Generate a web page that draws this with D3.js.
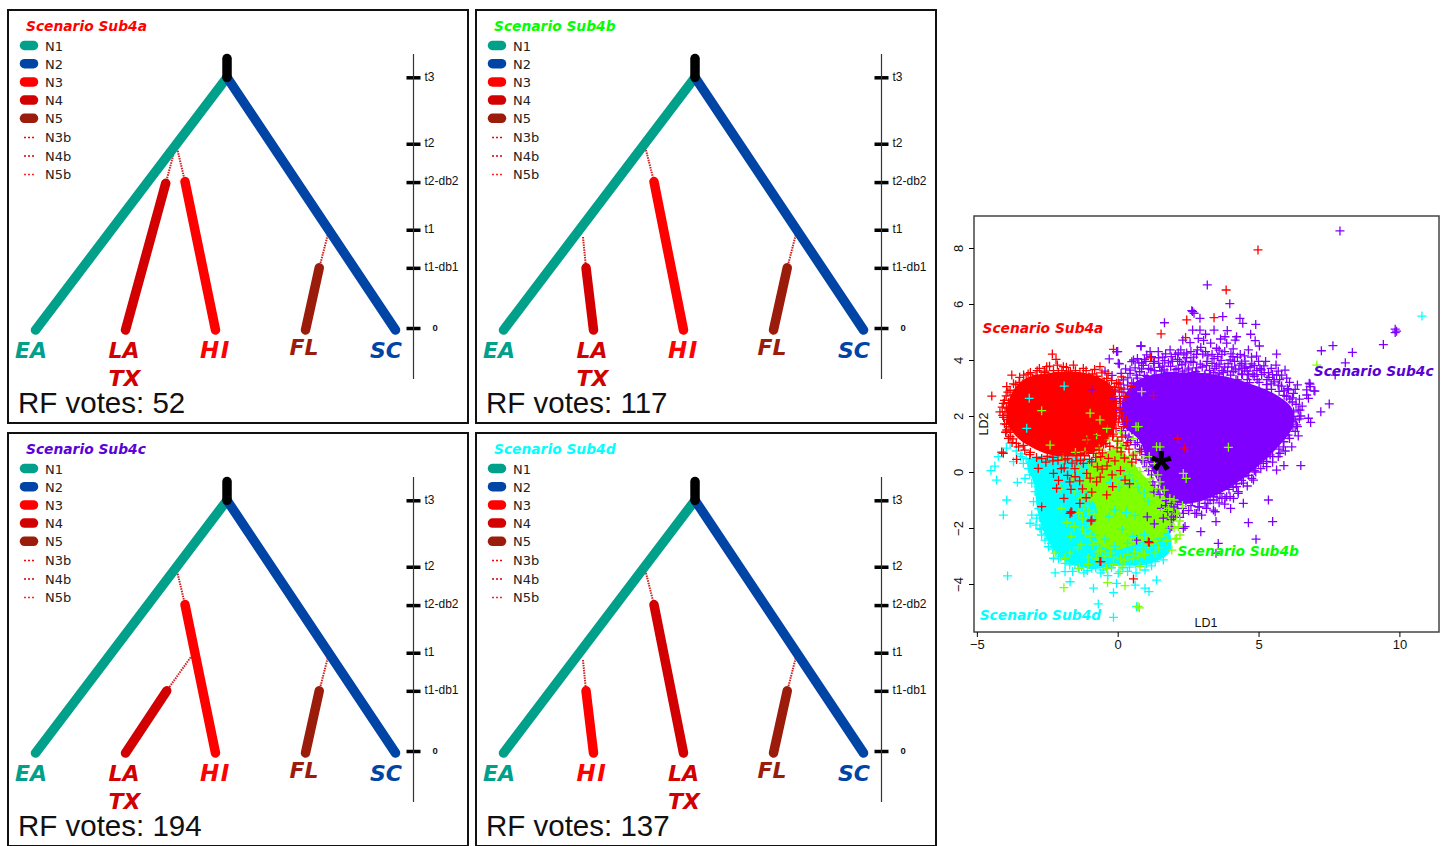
<!DOCTYPE html>
<html>
<head>
<meta charset="utf-8">
<script src="https://cdn.jsdelivr.net/npm/d3@7"></script>
<style>
  html, body { margin: 0; padding: 0; background: #fff; overflow: hidden; }
  text { fill: #111; }
  .bold { font-family: "DejaVu Sans"; font-weight: bold; font-style: italic; }
  .legend { font-family: "DejaVu Sans"; font-size: 13px; fill: #222; }
  .tick-label { font-family: "Liberation Sans"; }
</style>
</head>
<body>
<div id="chart"></div>
<script>
/* DATA */
const nodeColors = { N1: "#00a08a", N2: "#0044a6", N3: "#ff0000", N4: "#d20000", N5: "#9c1c0c" };
const legendSolid = ["N1", "N2", "N3", "N4", "N5"];
const legendDotted = ["N3b", "N4b", "N5b"];
const dottedColors = ["#ff0000", "#d20000", "#ff2020"];

const scenarioNames = ["Scenario Sub4a", "Scenario Sub4b", "Scenario Sub4c", "Scenario Sub4d"];
const scenarioColors = ["#ff0000", "#00ff00", "#5a00d8", "#00ffff"];
const rfVotes = [52, 117, 194, 137];

const timeLabels = ["t3", "t2", "t2-db2", "t1", "t1-db1", "0"];
const timeValues = [100, 73.5, 58.2, 39.2, 24, 0];

// [node, position top, time top, position tip, time tip]
const stemBranches = [["N1", 2.128, 100, 0, -0.8], ["N2", 2.128, 100, 4, -0.8]];
const fifthBranch = ["N5", 3.153, 24, 3, -0.8];
const branchesA = [["N4", 1.447, 57.7, 1, -0.8], ["N3", 1.661, 58.4, 2, -0.8]];
const branchesB = [["N4", 0.917, 24, 1, -0.8], ["N3", 1.672, 58.4, 2, -0.8]];
const branchesC = [["N4", 1.458, 24, 1, -0.8], ["N3", 1.661, 58.4, 2, -0.8]];
const branchesD = [["N3", 0.917, 24, 1, -0.8], ["N4", 1.672, 58.4, 2, -0.8]];
const scenarioBranches = [branchesA, branchesB, branchesC, branchesD];

// dotted bottleneck stretches: [position from, time from, position to, time to]
const dottedFifth = [3.247, 37.1, 3.153, 24];
const dottedA = [[1.531, 69, 1.447, 57.7], [1.58, 70.7, 1.661, 58.4]];
const dottedB = [[0.883, 36.3, 0.917, 24], [1.583, 71, 1.672, 58.4]];
const dottedC = [[1.724, 37.4, 1.458, 24], [1.58, 70.7, 1.661, 58.4]];
const dottedD = [[0.883, 36.3, 0.917, 24], [1.583, 71, 1.672, 58.4]];
const scenarioDotted = [dottedA, dottedB, dottedC, dottedD];

// tip labels: [label, colour node]
const tipLabelsLeft = [["EA", "N1"], ["LA", "N4"], ["HI", "N3"], ["FL", "N5"], ["SC", "N2"]];
const tipLabelsRight = [["EA", "N1"], ["HI", "N3"], ["LA", "N4"], ["FL", "N5"], ["SC", "N2"]];
const scenarioTips = [tipLabelsLeft, tipLabelsLeft, tipLabelsLeft, tipLabelsRight];

// LD scores: solid areas where the crosses merge
const coreRed = [[-3.82,2.69],[-3.35,3.29],[-2.28,3.55],[-1.0,3.5],[-0.2,3.05],[-0.02,2.25],[-0.1,1.55],[-0.5,0.95],[-0.98,0.65],[-1.69,0.55],[-2.40,0.62],[-2.99,0.85],[-3.59,1.26],[-3.94,1.86]];
const corePurple = [[0.2,2.6],[0.6,3.2],[1.38,3.5],[2.45,3.55],[3.63,3.45],[4.58,3.2],[5.64,2.75],[6.2,2.25],[6.22,1.62],[5.8,1.02],[5.1,0.31],[4.46,-0.22],[3.75,-0.7],[2.92,-1.05],[2.21,-1.12],[1.74,-0.95],[1.38,-0.25],[1.03,0.45],[0.79,1.1],[0.15,1.75]];
const coreCyan = [[-3.2,0.4],[-2.5,0.6],[-1.2,0.5],[0.02,0.3],[0.6,-0.3],[1.3,-0.85],[1.8,-1.9],[1.85,-2.85],[1.0,-3.3],[0,-3.35],[-0.95,-3.45],[-1.9,-3.15],[-2.55,-2.3],[-2.85,-1.4],[-2.95,-0.5]];
const coreGreen = [[-1.2,-0.40],[-0.80,0.43],[0.02,0.79],[0.85,-0.05],[1.56,-0.76],[2.2,-1.36],[1.85,-2.0],[1.5,-2.3],[0.85,-2.5],[0.1,-2.75],[-0.5,-2.7],[-0.85,-2.1],[-0.75,-1.3]];

const purplePoints = [[7.89,8.61],[3.18,6.68],[3.98,6.01],[2.66,5.73],[2.71,5.67],[2.63,5.76],[2.92,5.49],[3.73,5.55],[1.66,5.33],[4.34,5.49],[4.90,5.27],[4.44,5.31],[2.66,5.07],[2.92,5.07],[3.42,5.07],[3.89,5.05],[3.12,4.92],[4.72,4.92],[4.22,4.83],[2.31,4.71],[2.57,4.62],[2.86,4.77],[4.88,4.69],[3.87,4.60],[5.03,4.50],[0.82,4.50],[4.17,4.71],[3.81,4.83],[5.64,4.21],[7.23,4.33],[7.64,4.51],[5.62,3.82],[8.08,3.90],[5.94,3.64],[6.83,3.14],[6.97,2.90],[7.51,2.43],[6.71,2.75],[6.38,3.11],[6.0,3.35],[5.82,3.46],[5.05,3.70],[4.93,4.14],[4.64,4.36],[4.40,3.88],[3.99,4.0],[3.51,4.42],[2.83,4.36],[2.24,4.36],[1.86,4.36],[1.44,4.30],[1.03,4.18],[0.56,4.0],[0.44,3.64],[0.02,3.88],[-0.04,4.30],
[8.33,4.27],[9.43,4.55],[9.85,5.10],[9.85,4.98],[9.90,5.03],[7.72,3.46],[7.21,2.15],[6.77,1.92],[6.85,1.77],[6.80,3.17],[6.83,3.05],[7.0,2.89],[6.77,2.63],[6.71,2.93],[6.5,0.23],[5.9,0.23],[5.64,0.07],[6.18,0.90],[6.41,1.29],[6.38,1.62],[6.47,2.21],[6.06,2.93],[5.35,-1.0],[4.64,-1.81],[5.50,-1.77],[4.91,-2.40],[3.57,-2.55],[3.49,-2.90],[2.95,-2.13],[3.49,-1.77],[4.46,-1.12],[4.28,-0.76],[4.01,-1.30],[3.46,-1.42],[2.80,-1.48],[2.33,-2.01],[1.86,-2.01],[3.87,-0.88],[3.40,-0.88],[4.82,-0.29],[5.29,0.19],[5.70,0.55],
[5.29,0.55],[5.0,0.31],[4.76,-0.23],[4.46,-0.17],[4.22,-0.52],[3.99,-0.88],[3.63,-0.76],[3.40,-1.36],[3.28,-1.0],[2.39,-1.95],[1.98,-1.60],[2.33,-1.48],[1.62,-1.65],[5.76,0.67],[5.64,1.08],[5.88,0.9],[6.30,1.86],[6.24,2.15],[6.41,2.21],[6.35,1.68],[4.64,0.13],[5.17,0.31],[5.23,0.61],[5.41,0.61],[4.46,-0.4],[4.28,-0.70],[3.81,-0.94],[4.11,-0.94],[3.10,-1.12],[3.40,-1.0],[2.74,-1.48],[2.98,-1.54],
[0,4.30],[-0.30,4.04],[0.06,3.86],[0.83,4.5],[0.5,3.94],[0.44,3.52],[0.56,3.17],[0.2,3.29],[-0.15,2.63],[-0.04,2.21],[-0.92,2.93],
[0.85,3.9],[1.1,3.7],[1.3,3.95],[1.55,3.6],[1.8,3.9],[2.0,3.55],[2.2,3.95],[2.5,3.65],[2.7,4.1],[3.0,3.75],[3.2,4.15],[3.45,3.7],[3.7,4.2],[3.9,3.6],[4.15,3.95],[4.4,3.5],[4.7,3.75],[4.95,3.3],[5.2,3.55],[5.45,3.15],[5.7,3.1],[6.0,2.7],[6.2,2.5],[0.7,3.35],[0.95,3.45],[1.25,3.3],[1.7,3.4],[2.3,3.6],[2.85,3.5],[3.3,3.45],[3.6,3.5],[4.2,3.3],[4.6,3.3],[5.3,2.95],[1.15,4.3],[1.6,4.1],[2.05,4.2],[2.45,4.25],[2.95,4.45],[3.3,4.6],[3.6,4.35],[4.1,4.4],[4.35,4.2],[3.05,4.7],[3.65,4.75],[0.35,3.1],[0.15,2.85],[0.3,2.5],[0.55,2.95],[0.1,2.3],[0.05,1.9],[0.25,1.7],[0.5,1.5],[0.4,1.25],[0.7,1.05],[0.85,0.8],[0.95,0.35],[1.1,0.05],[1.25,-0.35],[1.5,-0.8],[1.7,-1.2],[2.0,-1.25],[2.3,-1.3],[2.6,-1.2],[2.9,-1.25],[3.15,-1.3],[3.6,-1.1],[3.8,-1.15],[4.1,-0.55],[4.6,-0.5],[4.9,0],[5.5,0.35],[5.95,0.75],[6.1,1.2],[6.3,1.45],[6.45,1.9],[6.2,2.65],[5.9,2.9],[5.55,3.3],[5.3,3.3],[4.8,3.5],[4.5,3.7],[3.1,3.5],[1.2,2.95],[-0.2,3.45],[-0.45,3.6]];

const purpleBandTop = [[.62,3.72],[.78,3.58],[.91,3.81],[1.04,3.42],[1.18,3.66],[1.27,3.88],[1.36,3.47],[1.49,3.74],[1.58,3.31],[1.67,3.98],[1.75,3.56],[1.88,3.77],[1.94,3.39],[2.07,3.66],[2.13,4.02],[2.19,3.28],[2.28,3.83],[2.36,3.49],[2.44,4.08],[2.52,3.71],[2.6,3.36],[2.68,3.92],[2.77,3.58],[2.85,3.26],[2.93,3.85],[3.02,4.21],[3.08,3.44],[3.17,3.95],[3.26,3.63],[3.34,3.21],[3.42,4.05],[3.51,3.78],[3.58,3.37],[3.67,3.99],[3.75,3.55],[3.84,3.24],[3.92,3.87],[4.01,3.46],[4.09,4.12],[4.18,3.68],[4.26,3.29],[4.34,3.82],[4.43,3.48],[4.52,3.96],[4.6,3.6],[4.68,3.19],[4.76,3.86],[4.85,3.42],[4.94,3.62],[5.02,3.2],[5.11,3.48],[5.19,3.79],[5.28,3.12],[5.37,3.38],[5.46,2.95],[5.55,3.22],[5.64,3.46],[5.73,2.88],[5.82,3.07],[5.91,2.74],[6.02,2.98],[6.11,2.6],[6.24,2.81],[6.33,2.42],
[.7,4.05],[.95,4.02],[1.2,4.12],[1.45,4.08],[1.7,4.22],[1.9,4.12],[2.15,4.25],[2.35,4.18],[2.6,4.3],[2.8,4.2],[3.12,4.3],[3.35,4.2],[3.55,4.12],[3.8,4.3],[4.02,4.22],[4.25,4.1],[4.5,4.15],[4.75,4.1],[5.0,3.95],[5.25,3.95],[5.45,3.7],[5.7,3.6],[.75,3.9],[1.0,3.95],[1.45,3.88],[1.6,3.78],[1.95,3.95],[2.4,3.9],[2.6,3.95],[2.8,3.72],[3.15,3.8],[3.35,3.88],[3.6,3.85],[3.8,3.75],[4.05,3.75],[4.3,3.65],[4.55,3.75],[4.85,3.8],[5.1,3.65],[5.35,3.55],[5.5,3.48],[5.75,3.3],[6.1,3.2],[6.3,2.95],[6.45,2.6],[6.55,2.35],[6.5,2.0],[.85,3.68],[1.3,3.62],[1.65,3.65],[2.15,3.7],[2.65,3.55],[3.4,3.55],[3.7,3.62],[4.1,3.58],[4.65,3.48]];
const purpleBandLeft = [[.12,3.52],[.28,3.68],[.36,3.36],[.5,3.18],[.66,3.46],[.08,3.14],[.22,2.96],[.4,2.82],[.58,2.68],[.72,2.84],[.82,2.56],[-.08,2.9],[.06,2.62],[.18,2.44],[.34,2.28],[.48,2.54],[.64,2.36],[.76,2.12],[.22,2.08],[.42,1.94],[.58,2.02],[.7,1.78],[.86,1.94],[.34,1.62],[.52,1.72],[.66,1.46],[.8,1.58],[.14,1.48],[.28,1.32],[.46,1.12],[.62,.98],[.78,.82],[.92,1.1],[.98,.62],[.86,.42],[1.02,.18],[1.14,.42],[1.2,-.1],[1.32,-.48],[1.44,-.62],[1.28,-.72]];
const purpleBandEdge = [[1.72,-1.02],[1.9,-1.12],[2.12,-1.16],[2.42,-1.1],[2.65,-1.02],[2.9,-.98],[3.12,-.82],[3.34,-.72],[3.55,-.6],[3.78,-.48],[3.96,-.36],[4.18,-.22],[4.34,-.06],[4.58,.1],[4.75,.22],[4.92,.4],[5.12,.52],[5.3,.74],[5.48,.88],[5.62,1.02],[5.78,1.22],[5.92,1.42],[6.04,1.58],[6.16,1.8],[6.25,1.98],[2.52,-1.38],[2.85,-1.24],[3.2,-1.12],[3.52,-.9],[3.7,-.94],[3.95,-.62],[4.2,-.42],[4.4,-.3],[4.65,-.12],[4.85,.05],[5.08,.12],[5.28,.38],[5.5,.55],[5.72,.82],[5.9,1.08],[6.05,1.32],[6.22,1.62],[2.05,-1.5],[2.2,-1.62],[1.78,-1.42],[1.9,-1.7],[1.55,-1.3],[.67,-2.43],[1.92,-1.95],[1.05,-1.6],[1.3,-1.85]];

const redPoints = [[4.98,7.93],[3.85,6.5],[2.45,5.43],[3.42,5.51],[1.54,4.93],[2.41,4.8],[-0.15,4.38],[0.56,-3.82],[2.12,1.2],[2.36,0.86],[1.12,-2.52],[-0.60,-3.2],[-1.63,-1.44],[-0.95,-1.75],[-1.91,-0.94],[-2.70,-1.24],[1.17,4.08],[1.27,2.73],[-4.47,2.71],[-4.12,0.71],
[-2.32,4.21],[-2.19,4.02],[-2.78,3.70],[-1.57,3.82],[-0.63,3.76],[-1.22,3.70],[-3.76,3.46],[-3.34,3.46],[-1.93,3.76],[-2.52,3.76],[-3.94,3.05],[-3.70,2.75],[-4.06,2.45],[-4.18,2.15],[-4.0,2.15],[-3.94,1.5],[-3.82,1.26],[-4.06,0.67],[0.14,3.40],[-0.09,2.93],[-0.04,2.45],[-3.59,0.45],[-2.82,0.13],[-2.28,-0.05],[-2.17,-0.58],[-1.69,-1.48],[-1.34,-1.12],[-0.33,0.49],[-0.75,-0.35],[-0.39,-0.82],[0.26,-0.29],[-1.51,-0.17],[-1.87,0.43],[-1.22,0.31],[-0.86,0.67],[0.2,1.62],[0.32,1.86],[-0.27,2.21],[-0.51,2.57],[-0.04,3.17],[-0.39,3.34],[-0.86,1.14],[0.79,0.73],
[-3.5,3.2],[-3.1,3.55],[-2.9,3.45],[-2.6,3.6],[-2.1,3.55],[-1.75,3.6],[-1.4,3.4],[-0.9,3.5],[-0.7,3.25],[-0.3,3.05],[-0.15,2.7],[-0.05,2.0],[-0.15,1.35],[-0.5,1.0],[-0.6,0.55],[-1.0,0.45],[-1.45,0.4],[-1.9,0.15],[-2.3,0.4],[-2.55,0.35],[-3.1,0.7],[-3.35,0.95],[-3.75,1.05],[-3.95,1.7],[-4.05,1.95],[-3.9,2.85],[-3.7,3.15],[-1.1,-0.05],[-0.55,0.1],[-0.1,0.4],[0.1,0.05],[-1.7,-0.35],[-2.1,-0.3],[-1.25,-0.6],[0.5,0.35],[0.35,1.05],
[.0,1.1],[.15,1.25],[.3,.95],[.05,2.25],[.18,1.95],[.28,2.7],[.48,3.05],[.12,3.0],[.55,.6],[.65,.45]];

const redRim = [[-3.62,3.12],[-3.48,3.38],[-3.25,3.28],[-3.18,3.5],[-3.02,3.34],[-2.86,3.62],[-2.72,3.42],[-2.58,3.56],[-2.42,3.78],[-2.28,3.62],[-2.14,3.82],[-1.98,3.62],[-1.82,3.74],[-1.68,3.55],[-1.5,3.62],[-1.34,3.52],[-1.12,3.62],[-1.02,3.4],[-.82,3.66],[-.74,3.42],[-.56,3.54],[-.48,3.22],[-.34,3.52],[-.22,3.26],[-.12,3.02],[.02,3.18],[.06,2.86],[-3.96,2.72],[-3.82,2.92],[-4.02,2.56],[-3.88,2.48],[-4.1,2.32],[-3.95,2.28],[-4.08,2.02],[-3.92,1.88],[-4.02,1.72],[-3.86,1.62],[-3.98,1.42],[-3.8,1.42],[-3.88,1.2],[-3.72,1.18],[-3.6,1.02],[-3.52,.9],[-3.3,.78],[-3.12,.62],[-2.88,.52],[-2.7,.48],[-2.5,.56],[-2.3,.52],[-2.12,.42],[-1.98,.62],[-1.78,.48],[-1.62,.32],[-1.48,.58],[-1.32,.42],[-1.18,.58],[-1.04,.72],[-.92,.36],[-.78,.52],[-.66,.78],[-.54,.68],[-.42,1.02],[-.28,.92],[-.18,1.28],[-.06,1.56],[.02,1.78],[.08,2.12],[-.22,1.72],[-.12,2.28],[.1,2.52],[.22,2.7],[-.02,.86],[.12,.72],[.24,.5],[.4,.82],[-.72,.18],[-.38,.22],[-1.52,.12],[-.98,-.22],[-.62,-.18],[-.2,-.1],[-1.35,-.32],[-1.78,-.12],[-2.0,.12],[-1.66,-.62],[-.92,-.72],[-1.12,-.92],[-.18,-.52],[.42,-.42],[1.09,-2.49],[-.92,-1.71],[-.63,-3.2],[-1.66,-1.42],[-.75,1.55],[-.9,1.3],[-1.1,1.1],[-1.3,.9],[-.55,1.35],[-.4,1.75]];

const cyanPoints = [[10.80,5.57],[-4.24,0.55],[-4.36,0.21],[-4.50,0.05],[-4.30,-0.29],[-3.56,-0.37],[-3.94,-1.0],[-4.06,-1.54],[-3.11,-1.83],[-3.91,-3.71],[-2.76,-2.01],[-2.22,-3.6],[-1.87,-3.56],[-1.69,-3.92],[-0.86,-4.15],[-0.15,-4.31],[-0.04,-3.98],[0.62,-4.04],[0.97,-4.15],[1.11,-4.27],[1.38,-3.86],[-0.69,-4.71],[-0.15,-5.19],[0.67,-4.81],[-3.29,-0.23],[-3.05,-0.40],[-2.93,-0.70],[-2.99,-1.06],[-3.05,-1.54],[-2.88,-1.65],[-2.70,-2.25],[-2.58,-2.43],[-2.46,-2.67],[-2.28,-3.08],[-1.87,-3.26],[-1.40,-3.44],[-0.92,-3.44],[0.02,-3.62],[0.97,-3.5],[1.33,-3.2],[1.62,-3.14],[1.5,-2.85],[-3.7,0.37],[-3.17,0.13],[-3.35,0.31],[-3.14,2.63],[-1.9,3.07],[-3.23,1.56],[-3.94,1.44],[-3.82,1.02],
[-2.85,-0.35],[-2.75,-0.9],[-2.8,-1.3],[-2.9,-1.9],[-2.5,-2.2],[-2.3,-2.75],[-2.1,-3.1],[-1.6,-3.55],[-1.2,-3.6],[-0.6,-3.6],[-0.35,-3.7],[0.35,-3.55],[0.65,-3.6],[1.2,-3.35],[1.5,-2.55],[1.6,-2.3],[-3.6,0.75],[-3.95,0.85],[-3.4,0.65],[-3.1,0.45],[-2.6,0.3],[-2.65,0.05]];

const cyanFill = [[-3.45,.55],[-3.25,.48],[-3.02,.22],[-2.85,.1],[-2.96,-.12],[-3.12,-.1],[-2.72,-.2],[-2.82,-.52],[-2.66,-.72],[-2.8,-.78],[-2.72,-1.12],[-2.62,-1.4],[-2.76,-1.55],[-2.64,-1.75],[-2.58,-1.98],[-2.72,-2.06],[-2.44,-2.38],[-2.36,-2.55],[-2.18,-2.82],[-2.02,-3.02],[-1.82,-3.12],[-1.7,-3.32],[-1.52,-3.28],[-1.28,-3.38],[-1.08,-3.52],[-.78,-3.42],[-.52,-3.5],[-.22,-3.42],[.18,-3.42],[.42,-3.4],[.62,-3.28],[.82,-3.2],[1.02,-3.28],[1.22,-3.12],[1.42,-3.02],[1.62,-2.82],[1.56,-2.62],[.22,.02],[.42,-.12],[.12,-.22],[-.08,-.05],[.55,-.32],[.72,-.55],[.35,-.45],[.05,-.55],[-.25,-.38],[.95,-.75],[1.08,-1.05],[-.3,-1.6],[-.1,-1.35],[.3,-1.45],[.62,-1.55],[.15,-2.05],[.55,-2.3],[.95,-2.25],[-.45,-2.4],[-.1,-2.65],[.35,-2.55]];

const greenPoints = [[-1.91,-4.13],[-0.36,-3.95],[0.26,-4.06],[0.77,-4.85],[0.72,-4.80],[0.79,-3.38],[1.92,-2.79],[2.04,-2.40],[-2.22,-2.90],[-1.87,-3.08],[-1.37,-3.44],[-0.39,-3.44],[0.08,-3.56],[0.85,-2.90],[1.33,-2.9],
[-2.70,2.19],[7.07,3.82],[2.43,-0.23],[3.93,0.88],[1.5,-0.35],[2.33,-0.05],[2.09,-2.37],[2.21,-2.25],[1.5,0.9],[0.65,1.62],
[-0.98,2.10],[-0.63,1.86],[-0.39,1.56],[-0.04,1.14],[-0.75,1.32],[-1.1,1.14],[-2.40,0.96],[-1.16,0.73],[-0.27,0.73],[0.2,1.02],[0.62,0.67],[0.73,1.62],[0.85,2.87],[1.38,0.9],[0.79,0.01],
[0.05,0.6],[-0.55,0.4],[-1.0,-0.1],[-1.3,-0.35],[-0.8,-0.6],[-1.55,-0.7],[-1.3,-0.95],[-0.7,-1.05],[-0.3,-1.15],[0.1,-1.0],[0.45,-0.6],[0.6,-0.2],[1.05,0.15],[1.15,-0.25],[1.0,-0.75],[0.7,-1.2],[1.3,-1.2],[1.55,-1.45],[2.0,-1.0],[2.2,-1.75],[1.85,-1.85],[1.5,-2.3],[1.25,-2.5],[0.95,-2.95],[0.55,-3.1],[0.15,-3.35],[-0.15,-3.3],[-0.75,-3.1],[-1.05,-3.3],[-1.3,-2.6],[-1.15,-2.2],[-0.95,-1.9],[-0.55,-1.55],[-0.15,-1.9],[-0.7,-2.5],[-0.25,-2.9],[-1.65,-2.3],[-1.8,-1.8],[-2.0,-1.3],[0.35,0.2],[0.55,1.2],[0.1,1.4],[-0.3,1.15],[-0.65,0.85],[-1.5,0.7],[-1.95,0.5],[-1.4,0.1],[-2.05,-0.6],
[-1.15,-.9],[-1.38,-1.45],[-1.55,-1.95],[-1.25,-2.05],[-1.42,-2.7],[-1.7,-2.9],[-1.05,-3.05],[-1.25,-1.65],[-1.2,-1.2],[-.95,-.55],[-1.6,-.2],[-.2,.55],[.15,.85],[.42,.55],[.62,.15],[.9,.45],[1.12,.55],[1.3,.3],[1.42,-.1],[1.65,-.65],[1.85,-.95],[1.35,-.6]];

const greenRim = [[-.95,-1.0],[-1.05,-1.4],[-.98,-2.3],[-.88,-2.6],[-.7,-2.85],[-.45,-3.0],[-.15,-3.05],[.1,-3.1],[.35,-2.95],[.6,-2.85],[.85,-2.7],[1.1,-2.6],[1.35,-2.45],[1.6,-2.15],[1.75,-1.9],[-1.0,-.3],[-1.15,-.05],[-1.05,.3],[-.75,.6],[-.45,.65],[-.2,.8],[.1,.9],[.4,.3],[.65,0],[.95,-.35],[1.25,-.95],[1.5,-1.1],[1.8,-1.3],[2.1,-1.5],[2.3,-1.2],[-1.2,-.65],[-.85,-1.5],[-.9,-2.0],[-.6,-2.8],[.25,-3.15],[.75,-3.0],[1.45,-2.7],[1.75,-2.45],[2.0,-2.0],[2.15,-1.95]];

const observed = [1.55, 0.35];
const scatterLabels = [["Scenario Sub4a", "#ff0000", -4.8, 4.97], ["Scenario Sub4b", "#00ff00", 2.12, -3.0], ["Scenario Sub4c", "#5a00d8", 6.96, 3.43], ["Scenario Sub4d", "#00ffff", -4.9, -5.29]];

/* SETUP */
const svg = d3.select("#chart").append("svg").attr("width", 1446).attr("height", 846);

const posScale = d3.scaleLinear().domain([0, 4]).range([35.5, 395.5]);
const timeScale = d3.scaleLinear().domain([0, 100]).range([328, 77.3]);
const branchPath = d3.line().x(d => posScale(d[0])).y(d => timeScale(d[1]));

/* TREE PANELS */
scenarioNames.forEach((name, i) => {
  const g = svg.append("g")
    .attr("transform", `translate(${(i % 2) * 468},${Math.floor(i / 2) * 423})`);

  g.append("rect")
    .attr("x", 8).attr("y", 10).attr("width", 460).attr("height", 413)
    .attr("fill", "none").attr("stroke", "#111").attr("stroke-width", 2);

  g.append("text").attr("class", "bold")
    .attr("x", 26).attr("y", 31)
    .style("font-size", "13.8px").style("fill", scenarioColors[i])
    .text(name);

  // legend
  legendSolid.forEach((n, k) => {
    const y = 45.5 + k * 18.2;
    g.append("line").attr("x1", 24.5).attr("x2", 33.5).attr("y1", y).attr("y2", y)
      .attr("stroke", nodeColors[n]).attr("stroke-width", 9.5).attr("stroke-linecap", "round");
    g.append("text").attr("class", "legend").attr("x", 45).attr("y", y + 5).text(n);
  });
  legendDotted.forEach((n, k) => {
    const y = 137.5 + k * 18.5;
    g.append("line").attr("x1", 24).attr("x2", 34).attr("y1", y).attr("y2", y)
      .attr("stroke", dottedColors[k]).attr("stroke-width", 1.5).attr("stroke-dasharray", "2,2");
    g.append("text").attr("class", "legend").attr("x", 45).attr("y", y + 4.5).text(n);
  });

  // dotted stretches
  scenarioDotted[i].concat([dottedFifth]).forEach(d => {
    g.append("path")
      .attr("d", branchPath([[d[0], d[1]], [d[2], d[3]]]))
      .attr("fill", "none")
      .attr("stroke", "#d02020").attr("stroke-width", 2).attr("stroke-dasharray", "1.5,1");
  });

  // branches
  const branches = stemBranches.concat(scenarioBranches[i], [fifthBranch]);
  g.selectAll(".branch")
    .data(branches)
    .join("path")
    .attr("class", "branch")
    .attr("d", d => branchPath([[d[1], d[2]], [d[3], d[4]]]))
    .attr("fill", "none")
    .attr("stroke", d => nodeColors[d[0]])
    .attr("stroke-width", 9.5)
    .attr("stroke-linecap", "round");

  // root stub
  g.append("path")
    .attr("d", branchPath([[2.128, 107.5], [2.128, 100]]))
    .attr("stroke", "#000").attr("stroke-width", 9.5).attr("stroke-linecap", "round");

  // tip labels
  scenarioTips[i].forEach((t, k) => {
    const shift = [-20.5, -17, -15.5, -16, -25.5][k];
    const label = g.append("text").attr("class", "bold")
      .attr("x", posScale(k) + shift)
      .attr("y", t[0] === "FL" ? 355 : 358)
      .style("font-size", "22px").style("fill", nodeColors[t[1]])
      .text(t[0]);
    if (t[0] === "HI") label.style("letter-spacing", "1.5px").style("font-size", "23px");
    if (t[0] === "LA") {
      g.append("text").attr("class", "bold")
        .attr("x", posScale(k) + shift)
        .attr("y", 386)
        .style("font-size", "22px").style("fill", nodeColors[t[1]])
        .text("TX");
    }
  });

  // time axis
  const timeAxis = g.append("g")
    .attr("transform", "translate(413.5,0)")
    .call(d3.axisRight(timeScale).tickValues(timeValues).tickSize(6.5).tickFormat((d, k) => timeLabels[k]));
  timeAxis.select(".domain").remove();
  timeAxis.append("line")
    .attr("y1", 54).attr("y2", 379)
    .attr("stroke", "#333").attr("stroke-width", 1.2);
  timeAxis.selectAll(".tick line")
    .attr("x1", -7).attr("x2", 7)
    .attr("stroke", "#000").attr("stroke-width", 3.5);
  timeAxis.selectAll(".tick text")
    .attr("class", "tick-label")
    .attr("x", d => d === 0 ? 19 : 11)
    .attr("y", -1)
    .attr("font-family", null).attr("font-size", null)
    .style("font-weight", d => d === 0 ? "bold" : "normal")
    .style("font-size", d => d === 0 ? "9.5px" : "12px");

  // votes
  g.append("text")
    .attr("x", 18).attr("y", 412.5)
    .style("font-family", "Liberation Sans").style("font-size", "29.5px")
    .text(`RF votes: ${rfVotes[i]}`);
});

/* SCATTER */
const margin = { top: 216, bottom: 214, left: 974, right: 7 };
const xScale = d3.scaleLinear()
  .domain([(974 - 1117.7) / 28.17, (1439 - 1117.7) / 28.17])
  .range([margin.left, 1446 - margin.right]);
const yScale = d3.scaleLinear()
  .domain([(472 - 632) / 28, (472 - 216) / 28])
  .range([846 - margin.bottom, margin.top]);

const plot = svg.append("g");
const corePath = d3.line().x(d => xScale(d[0])).y(d => yScale(d[1])).curve(d3.curveCatmullRomClosed);

function drawPlus(points, color) {
  plot.append("g").selectAll("path")
    .data(points)
    .join("path")
    .attr("d", "M-4.5,0H4.5M0,-4.5V4.5")
    .attr("transform", d => `translate(${xScale(d[0])},${yScale(d[1])})`)
    .attr("fill", "none")
    .attr("stroke", color)
    .attr("stroke-width", 1.3);
}

plot.append("path").attr("d", corePath(coreCyan)).attr("fill", "#00ffff");
plot.append("path").attr("d", corePath(coreGreen)).attr("fill", "#80ff00");
plot.append("path").attr("d", corePath(corePurple)).attr("fill", "#8000ff");
plot.append("path").attr("d", corePath(coreRed)).attr("fill", "#ff0000");
drawPlus(purplePoints.concat(purpleBandTop, purpleBandLeft, purpleBandEdge), "#8000ff");
drawPlus(cyanPoints.concat(cyanFill), "#00ffff");
drawPlus(greenPoints.concat(greenRim), "#80ff00");
drawPlus(redPoints.concat(redRim), "#ff0000");

svg.append("rect")
  .attr("x", 974).attr("y", 216).attr("width", 465).attr("height", 416)
  .attr("fill", "none").attr("stroke", "#444").attr("stroke-width", 1.5);

const xAxis = svg.append("g")
  .attr("transform", "translate(0,632)")
  .call(d3.axisBottom(xScale).tickValues([-5, 0, 5, 10]).tickSize(5).tickPadding(3));
xAxis.select(".domain").remove();
xAxis.selectAll("text").style("font-family", "Liberation Sans").style("font-size", "13px");

const yAxis = svg.append("g")
  .attr("transform", "translate(974,0)")
  .call(d3.axisLeft(yScale).tickValues([-4, -2, 0, 2, 4, 6, 8]).tickSize(5));
yAxis.select(".domain").remove();
yAxis.selectAll("text")
  .attr("x", null).attr("dy", null).attr("text-anchor", "middle")
  .attr("transform", "translate(-11,0) rotate(-90)")
  .style("font-family", "Liberation Sans").style("font-size", "13px");

svg.append("text")
  .attr("x", 1206).attr("y", 627).attr("text-anchor", "middle")
  .style("font-family", "Liberation Sans").style("font-size", "12.5px")
  .text("LD1");
svg.append("text")
  .attr("transform", "translate(988,424) rotate(-90)").attr("text-anchor", "middle")
  .style("font-family", "Liberation Sans").style("font-size", "12.5px")
  .text("LD2");

scatterLabels.forEach(d => {
  svg.append("text").attr("class", "bold")
    .attr("x", xScale(d[2])).attr("y", yScale(d[3]))
    .style("font-size", "13.8px").style("fill", d[1])
    .text(d[0]);
});

// observed data
svg.append("text")
  .attr("x", xScale(observed[0])).attr("y", yScale(observed[1]) + 26)
  .attr("text-anchor", "middle")
  .style("font-family", "Liberation Sans").style("font-weight", "bold").style("font-size", "54px")
  .style("fill", "#000")
  .text("*");
</script>
</body>
</html>
